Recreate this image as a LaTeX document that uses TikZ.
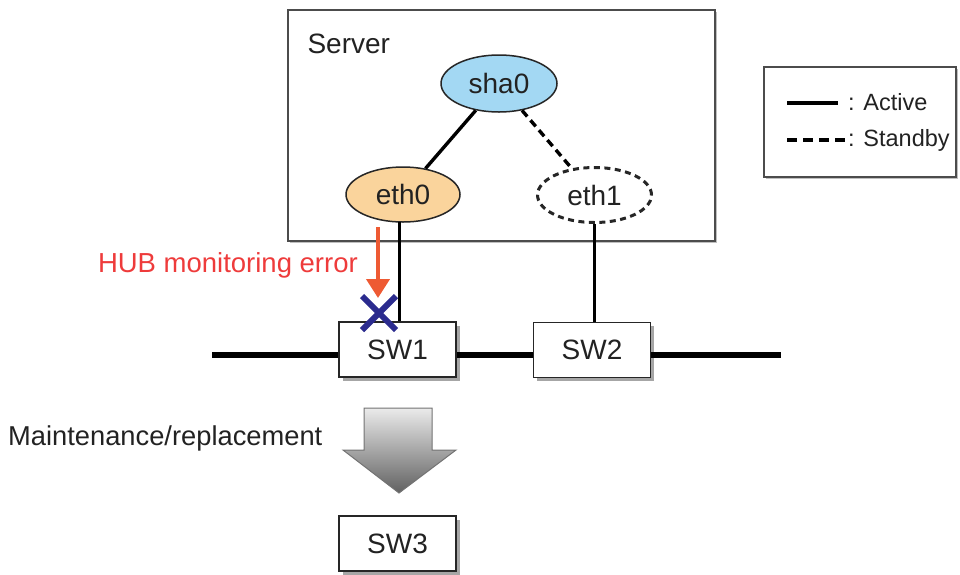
\documentclass[tikz,border=0pt]{standalone}
\usepackage{fontspec}
\setmainfont{Liberation Sans}
\usetikzlibrary{shapes.geometric,shadows,arrows.meta,calc}
\definecolor{shablue}{HTML}{A3D8F3}
\definecolor{ethorange}{HTML}{FAD49C}
\definecolor{errred}{HTML}{EE3B3B}
\definecolor{arrred}{HTML}{EE5A33}
\definecolor{xblue}{HTML}{2B2B8E}
\definecolor{txt}{HTML}{222222}
\begin{document}
\begin{tikzpicture}[x=1pt,y=-1pt,
  mainfont/.style={font=\fontsize{28}{31}\selectfont, text=txt},
  legfont/.style={font=\fontsize{23.5}{26}\selectfont, text=txt},
  ifell/.style={ellipse, draw=black!85, line width=1.5pt, minimum width=114pt, minimum height=55pt, inner sep=0pt, mainfont},
  swbox/.style={rectangle, draw=black!85, line width=1.5pt, fill=white, minimum width=117pt, minimum height=55pt, inner sep=0pt, mainfont,
    drop shadow={shadow xshift=3.5pt, shadow yshift=-3.5pt, fill=black!35, opacity=1}},
  framebox/.style={rectangle, draw=black!70, line width=2pt, fill=white, inner sep=0pt,
    drop shadow={shadow xshift=2pt, shadow yshift=-2pt, fill=black!25, opacity=1}},
  active/.style={line width=3.4pt, black},
  standby/.style={line width=3.4pt, black, dash pattern=on 8pt off 5pt},
  bus/.style={line width=5.5pt, black}
]
\useasboundingbox (0,0) rectangle (960,574);

% Server frame
\node[framebox, minimum width=427pt, minimum height=231pt] (server) at (501.5,125.5) {};
\node[mainfont, anchor=west] (serverlbl) at (304,44) {Server};

% Legend frame
\node[framebox, minimum width=192pt, minimum height=110pt] (legend) at (860,122) {};
\coordinate (la1) at (787,103);
\coordinate (la2) at (838,103);
\coordinate (ls1) at (787,140);
\coordinate (ls2) at (846,140);
\draw[active] (la1) -- (la2);
\draw[active, dash pattern=on 10pt off 6pt] (ls1) -- (ls2);
\node[legfont, anchor=west, inner sep=0pt] (lact) at (848,102) {: Active};
\node[legfont, anchor=west, inner sep=0pt] (lsby) at (848,140) {: Standby};

% interfaces
\node[ifell, fill=shablue, minimum width=116pt, minimum height=57pt] (sha0) at (499,83.5) {sha0};
\node[ifell, fill=ethorange] (eth0) at (403,194.5) {eth0};
\node[ifell, fill=white, dash pattern=on 6pt off 4.5pt, line width=3pt] (eth1) at (594.5,195) {eth1};

\draw[active] (sha0) -- (eth0);
\draw[standby] (sha0) -- (eth1);

% switches
\node[swbox] (sw1) at (397.5,349.5) {SW1};
\node[swbox] (sw2) at (592,350) {SW2};
\node[swbox] (sw3) at (397.5,543.5) {SW3};

\coordinate (busL) at (212,355);
\coordinate (busR) at (781,355);
\draw[bus] (busL) -- (busL -| sw1.west);
\draw[bus] (sw1.east |- busL) -- (sw2.west |- busL);
\draw[bus] (sw2.east |- busR) -- (busR);

\coordinate (e0drop) at (399,222);
\draw[line width=3pt] (e0drop) -- (e0drop |- sw1.north);
\draw[line width=3pt] (eth1.south) -- (eth1.south |- sw2.north);

% error indication
\coordinate (errtop) at (378,227);
\coordinate (errtip) at (378,298);
\draw[arrred, line width=4pt, -{Triangle[width=23pt,length=19pt]}] (errtop) -- (errtip);
\node[font=\fontsize{27.5}{30}\selectfont, text=errred, anchor=east, inner sep=0pt] (errlbl) at (358,265) {HUB monitoring error};

\coordinate (xc) at (379,313);
\draw[xblue, line width=6pt] ($(xc)+(-17,-17)$) -- ($(xc)+(17,17)$);
\draw[xblue, line width=6pt] ($(xc)+(17,-17)$) -- ($(xc)+(-17,17)$);

% maintenance arrow
\node[font=\fontsize{27.3}{30}\selectfont, text=txt, anchor=west, inner sep=0pt] (maint) at (8,438) {Maintenance/replacement};
\draw[draw=black!55, line width=1pt, top color=black!8, bottom color=black!62]
  (364,408) -- (432,408) -- (432,450) -- (456,450) -- (399,493) -- (343,450) -- (364,450) -- cycle;
\end{tikzpicture}
\end{document}
